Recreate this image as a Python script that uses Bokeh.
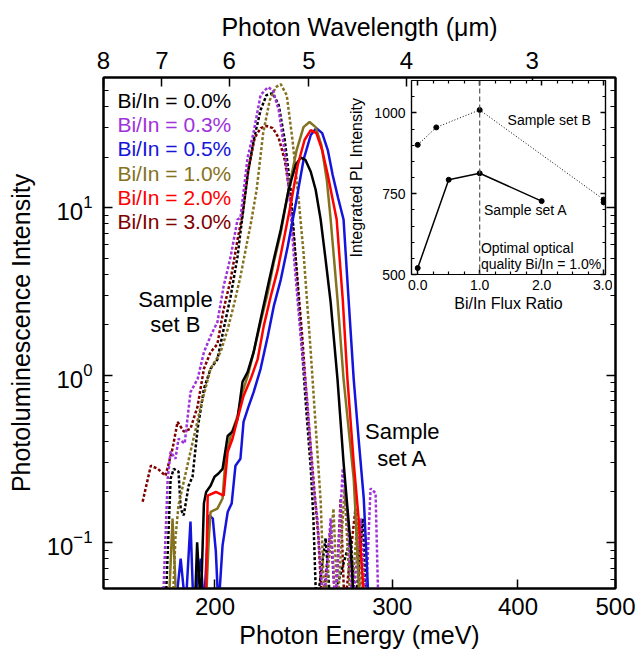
from bokeh.plotting import figure
from bokeh.models import (LogAxis, LinearAxis, FixedTicker, CustomJSTickFormatter,
                          PrintfTickFormatter, Label, Span, GridBox, Range1d)
from bokeh.embed import file_html
from bokeh.resources import INLINE

FONT = "Liberation Sans"

# ---------------- data: main panel ----------------
energy_ticks = [200, 300, 400, 500]
wavelength_ticks = [8, 7, 6, 5, 4, 3]
intensity_ticks = [0.1, 1, 10]

# Set A (solid)
A00_E = [191, 192, 193.6, 195, 196.0, 198, 199.8, 201.6, 203.5, 205.9, 208.2, 210.6, 213, 215.5, 218.5,
         222, 225.7, 228.8, 232.5, 236.7, 240.5, 243.3, 246, 249, 251.8, 254.7, 257.6, 260.6, 264.7,
         268.4, 272.8, 274.0, 275.0]
A00_I = [0.04, 0.10, 0.04, 0.171, 0.20, 0.218, 0.247, 0.258, 0.275, 0.433, 0.46, 0.547, 0.91, 1.04, 1.37,
         2.15, 3.39, 4.9, 7.4, 12.8, 18, 19.9, 19.3, 16.4, 12.8, 8.5, 4.9, 2.72, 0.946,
         0.30, 0.096, 0.058, 0.04]

A05_E = [182.7, 184.9, 187, 189.1, 190.4, 193.6, 195, 197.2, 199, 200.4, 201.6, 203.5, 205.9, 207.8,
         209.6, 212, 213.5, 216, 218.5, 222, 225.7, 228.8, 232.5, 236.2, 240.5, 244.9, 249, 252.2,
         255.6, 258.9, 261.8, 265.0, 268.4, 271.5, 274.7, 277.8, 281.1, 282.3, 283.6, 284.2]
A05_I = [0.04, 0.08, 0.04, 0.133, 0.04, 0.08, 0.04, 0.145, 0.139, 0.088, 0.04, 0.096, 0.152, 0.171,
         0.287, 0.316, 0.525, 0.65, 0.79, 1.09, 1.71, 2.58, 3.72, 5.86, 10.4, 19.3, 27.2, 29.9,
         27.9, 22.1, 15.7, 11.5, 8.5, 2.83, 0.946, 0.416, 0.183, 0.106, 0.058, 0.04]

A10_E = [179.9, 181.5, 183.2, 195.8, 197.2, 198, 201.1, 203.5, 204.9, 207.3, 210.6, 213, 215.5, 218.5,
         222, 225.7, 228.8, 232.5, 236.7, 241.1, 244.9, 248.3, 251.8, 255.1, 258.3, 260.6, 264.7,
         268.4, 274.7, 275.8, 277.8, 278.4]
A10_I = [0.04, 0.139, 0.04, 0.04, 0.106, 0.152, 0.159, 0.183, 0.316, 0.433, 0.57, 0.79, 0.985, 1.37,
         2.07, 3.12, 4.7, 7.1, 12.8, 22.1, 30.3, 32.5, 30.3, 23.7, 14.7, 8.5, 2.83,
         0.946, 0.24, 0.152, 0.058, 0.04]

A20_E = [195.8, 196.7, 200.4, 204, 205.9, 208.2, 210.6, 213.5, 217, 220.5, 223.6, 227.2, 230.9, 234.1,
         237.8, 241.7, 245.5, 249, 252.2, 255.6, 258.9, 261.8, 264.2, 267.9, 270.8, 274.7, 277.8,
         280.4, 281.1]
A20_I = [0.04, 0.19, 0.20, 0.19, 0.348, 0.416, 0.547, 0.75, 0.946, 1.24, 1.96, 2.95, 4.28, 6.45,
         10.4, 18, 25.4, 29.1, 27.9, 22.1, 15.7, 11.2, 8.5, 2.83, 0.946, 0.30, 0.139,
         0.061, 0.04]

# Set B (dotted)
B00_E = [178.6, 180.7, 182, 184, 184.9, 186.2, 188.3, 190, 192.2, 195, 198, 201.1, 204, 207.3, 210.6,
         212, 215.5, 218.5, 222, 225, 228.3, 231.4, 234.6, 237.8, 240.5, 243.3, 246, 249, 250.5,
         252.2, 257.6, 260.6, 272.8, 275.8, 280.4, 282.9]
B00_I = [0.04, 0.24, 0.275, 0.265, 0.159, 0.145, 0.218, 0.247, 0.477, 0.826, 1.09, 1.24, 1.88, 2.95, 5.1,
         7.1, 15.7, 25.4, 38.3, 47.1, 48.4, 41, 25.4, 12.8, 4.9, 1.88, 0.72, 0.276, 0.139,
         0.04, 0.106, 0.04, 0.106, 0.04, 0.139, 0.04]

B03_E = [177.5, 179.5, 180.7, 182.7, 184, 186.6, 189.1, 192.2, 195, 198, 201.1, 204, 207.3, 210.6,
         212, 215.5, 218.5, 222, 225.7, 228.3, 231.4, 235.2, 237.8, 239.4, 243.3, 247.1, 250.5,
         252.8, 254.7, 256.4, 260.6, 263.5, 267.9, 270.8, 273.8, 279.1, 282.3, 285.5, 288.8, 290.7]
B03_I = [0.04, 0.24, 0.348, 0.316, 0.416, 0.39, 0.79, 0.946, 1.37, 1.71, 2.07, 3.39, 5.1, 8.5,
         8.7, 19.9, 28.3, 47.1, 52.5, 50.4, 38.3, 19.3, 9.7, 5.4, 1.71, 0.69, 0.218,
         0.139, 0.07, 0.04, 0.139, 0.04, 0.276, 0.15, 0.04, 0.139, 0.04, 0.21, 0.197, 0.04]

B10_E = [181.5, 182.7, 184, 186.2, 189.1, 191.4, 193.6, 198, 202.6, 205.9, 208.7, 212, 215.5, 217,
         220, 223.3, 226.7, 229.8, 232.5, 235.7, 238.8, 242.2, 244.9, 249, 252.8, 254.7, 257,
         262.3, 264.7, 269, 272.8, 277.2, 280.4]
B10_I = [0.04, 0.106, 0.167, 0.23, 0.348, 0.477, 0.65, 1.09, 1.37, 1.88, 2.58, 3.88, 6.45, 7.9,
         12.8, 27.9, 43.9, 52.5, 54.7, 47, 25.4, 11.2, 5.4, 1.37, 0.348, 0.176, 0.04,
         0.159, 0.04, 0.21, 0.04, 0.139, 0.04]

B30_E = [169.5, 172.7, 175.5, 178.6, 181.5, 183.6, 186.2, 189.1, 192.2, 195, 198, 201.1, 204, 207.3,
         210.6, 213, 215.9, 219, 222, 225, 228.3, 231.4, 234.6, 237.8, 241.1, 244.3, 247.1, 250.5,
         253.4, 255.6, 260.6, 263.5, 266.6, 269, 275.8, 279.1]
B30_I = [0.175, 0.287, 0.275, 0.25, 0.363, 0.525, 0.46, 0.477, 0.65, 1.09, 1.37, 1.53, 2.47, 3.72,
         6.45, 9.1, 16.8, 26.1, 29.9, 30.8, 29.9, 26.1, 19.3, 11.2, 4.28, 1.64, 0.63, 0.24,
         0.106, 0.04, 0.12, 0.04, 0.183, 0.04, 0.159, 0.04]

legend_text = ["Bi/In = 0.0%", "Bi/In = 0.3%", "Bi/In = 0.5%", "Bi/In = 1.0%", "Bi/In = 2.0%", "Bi/In = 3.0%"]
legend_colors = ["#000000", "#a032dc", "#1414dc", "#857220", "#ff0000", "#800000"]
C_BLACK, C_PURPLE, C_BLUE, C_OLIVE, C_RED, C_DRED = legend_colors

# ---------------- data: inset ----------------
setA_ratio = [0.0, 0.5, 1.0, 2.0]
setA_pl = [520, 793, 813, 727]
setB_ratio = [0.0, 0.3, 1.0, 3.0]
setB_pl = [901, 955, 1009, 732]
extra_ratio = [3.0]
extra_pl = [723]
inset_x_ticks = [0, 1, 2, 3]
inset_y_ticks = [500, 750, 1000]

# ---------------- main figure ----------------
p = figure(width=637, height=658, x_axis_type="log", y_axis_type="log",
           x_range=Range1d(1239.84 / 8, 500), y_range=Range1d(0.053, 60),
           output_backend="svg", toolbar_location=None,
           min_border_left=103, min_border_right=22, min_border_top=77, min_border_bottom=70,
           background_fill_color="white", border_fill_color="white")
p.xgrid.visible = False
p.ygrid.visible = False
p.outline_line_color = "black"
p.outline_line_width = 2


def style_axis(ax, tick_size="24px", label_size="25px", tick_in=9, minor_in=5, lw=2):
    ax.axis_line_width = lw
    ax.axis_line_color = "black"
    ax.major_tick_in = tick_in
    ax.major_tick_out = 0
    ax.minor_tick_in = minor_in
    ax.minor_tick_out = 0
    ax.major_tick_line_width = 1.5
    ax.minor_tick_line_width = 1.2
    ax.major_label_text_font = FONT
    ax.major_label_text_font_size = tick_size
    ax.major_label_text_color = "black"
    ax.axis_label_text_font = FONT
    ax.axis_label_text_font_size = label_size
    ax.axis_label_text_font_style = "normal"
    ax.axis_label_text_color = "black"


minor_log = [m * 10.0 ** k for k in (-2, -1, 0, 1) for m in range(2, 10)]

bottom = p.below[0]
bottom.ticker = FixedTicker(ticks=energy_ticks, minor_ticks=[])
bottom.formatter = PrintfTickFormatter(format="%d")
bottom.axis_label = "Photon Energy (meV)"
style_axis(bottom)
bottom.major_label_standoff = 9
bottom.axis_label_standoff = 3

left = p.left[0]
left.ticker = FixedTicker(ticks=intensity_ticks, minor_ticks=minor_log)
left.axis_label = "Photoluminescence Intensity"
style_axis(left)
left.major_label_standoff = 11
left.axis_label_standoff = 9

top = LogAxis(ticker=FixedTicker(ticks=[1239.84 / w for w in wavelength_ticks], minor_ticks=[]),
              formatter=CustomJSTickFormatter(code="return (1239.84 / tick).toFixed(0);"),
              axis_label="Photon Wavelength (μm)")
style_axis(top)
top.major_label_standoff = 9
top.axis_label_standoff = 8
p.add_layout(top, "above")

right = LogAxis(ticker=FixedTicker(ticks=intensity_ticks, minor_ticks=minor_log),
                formatter=CustomJSTickFormatter(code="return '';"))
style_axis(right)
right.major_label_standoff = 0
p.add_layout(right, "right")

dot = "3 2"
lw = 2.5
p.line(B30_E, B30_I, line_color=C_DRED, line_width=lw, line_dash=dot)
p.line(B00_E, B00_I, line_color=C_BLACK, line_width=lw, line_dash=dot)
p.line(B10_E, B10_I, line_color=C_OLIVE, line_width=lw, line_dash=dot)
p.line(B03_E, B03_I, line_color=C_PURPLE, line_width=lw, line_dash=dot)
p.line(A05_E, A05_I, line_color=C_BLUE, line_width=lw)
p.line(A10_E, A10_I, line_color=C_OLIVE, line_width=lw)
p.line(A00_E, A00_I, line_color=C_BLACK, line_width=lw)
p.line(A20_E, A20_I, line_color=C_RED, line_width=lw)

legend_y = [43.9, 31.4, 22.5, 16.1, 11.5, 8.26]
for txt, col, yy in zip(legend_text, legend_colors, legend_y):
    p.add_layout(Label(x=160, y=yy, text=txt, text_color=col, text_font=FONT,
                       text_font_size="21px", text_baseline="middle", text_align="left"))

for txt, yy in (("Sample", 2.83), ("set B", 2.01)):
    p.add_layout(Label(x=182.7, y=yy, text=txt, text_color="black", text_font=FONT,
                       text_font_size="22px", text_baseline="middle", text_align="center"))
for txt, yy in (("Sample", 0.458), ("set A", 0.316)):
    p.add_layout(Label(x=307, y=yy, text=txt, text_color="black", text_font=FONT,
                       text_font_size="22px", text_baseline="middle", text_align="center"))

# ---------------- inset ----------------
ins = figure(width=267, height=250, x_range=Range1d(-0.1, 3.03), y_range=Range1d(500, 1100),
             output_backend="svg", toolbar_location=None,
             min_border_left=65, min_border_right=7, min_border_top=10, min_border_bottom=46,
             background_fill_color="white", border_fill_alpha=0)
ins.xgrid.visible = False
ins.ygrid.visible = False
ins.outline_line_color = "black"
ins.outline_line_width = 1.2

ix_minor = [i * 0.25 for i in range(0, 13) if i % 4 != 0]
iy_minor = [v for v in range(550, 1100, 50) if v not in inset_y_ticks]

ib = ins.below[0]
ib.ticker = FixedTicker(ticks=inset_x_ticks, minor_ticks=ix_minor)
ib.formatter = PrintfTickFormatter(format="%.1f")
ib.axis_label = "Bi/In Flux Ratio"
style_axis(ib, tick_size="14px", label_size="16px", tick_in=5, minor_in=3, lw=1.2)
ib.major_label_standoff = 5
ib.axis_label_standoff = 2

il = ins.left[0]
il.ticker = FixedTicker(ticks=inset_y_ticks, minor_ticks=iy_minor)
il.axis_label = "Integrated PL Intensity"
style_axis(il, tick_size="14px", label_size="16px", tick_in=5, minor_in=3, lw=1.2)
il.major_label_standoff = 6
il.axis_label_standoff = 6

it = LinearAxis(ticker=FixedTicker(ticks=inset_x_ticks, minor_ticks=ix_minor),
                formatter=CustomJSTickFormatter(code="return '';"))
style_axis(it, tick_size="14px", tick_in=5, minor_in=3, lw=1.2)
it.major_label_standoff = 0
ins.add_layout(it, "above")
ir = LinearAxis(ticker=FixedTicker(ticks=inset_y_ticks, minor_ticks=iy_minor),
                formatter=CustomJSTickFormatter(code="return '';"))
style_axis(ir, tick_size="14px", tick_in=5, minor_in=3, lw=1.2)
ir.major_label_standoff = 0
ins.add_layout(ir, "right")

ins.add_layout(Span(location=1.0, dimension="height", line_color="#555555", line_width=1.2,
                    line_dash="5 3"))
ins.line(setB_ratio, setB_pl, line_color="black", line_width=1, line_dash="1 2")
ins.line(setA_ratio, setA_pl, line_color="black", line_width=1.5)
ins.scatter(setB_ratio, setB_pl, size=5, color="black")
ins.scatter(setA_ratio, setA_pl, size=5, color="black")
ins.scatter(extra_ratio, extra_pl, size=5, color="black")

for txt, xx, yy in (("Sample set B", 1.45, 977), ("Sample set A", 1.07, 700),
                    ("Optimal optical", 1.02, 583), ("quality Bi/In = 1.0%", 1.02, 531)):
    ins.add_layout(Label(x=xx, y=yy, text=txt, text_color="black", text_font=FONT,
                         text_font_size="14px", text_baseline="middle", text_align="left"))

layout = GridBox(children=[(p, 0, 0, 3, 3), (ins, 1, 1, 1, 1)],
                 rows=["70px", "250px", "338px"], cols=["345px", "267px", "25px"])

open("out.html", "w").write(file_html(layout, INLINE))
